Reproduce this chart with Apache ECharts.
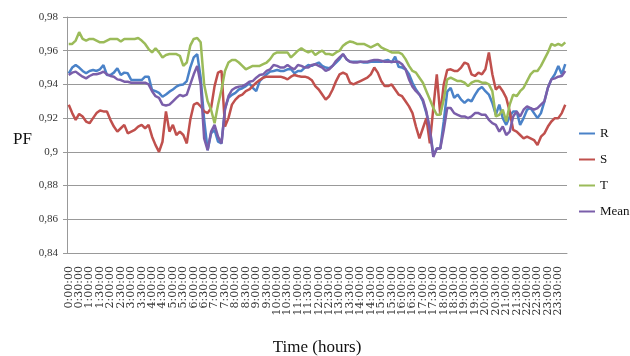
<!DOCTYPE html>
<html>
<head>
<meta charset="utf-8">
<script src="https://cdn.jsdelivr.net/npm/echarts@6/dist/echarts.min.js"></script>
<style>
  html, body { margin: 0; padding: 0; background: #fff; }
  #chart { width: 630px; height: 356px; }
</style>
</head>
<body>
<div id="chart"></div>
<script>
// 10-minute samples over one day
const times = [];
for (let h = 0; h < 24; h++) {
    for (let m = 0; m < 60; m += 10) {
        times.push(h + ":" + String(m).padStart(2, "0") + ":00");
    }
}

const yTicks = [0.84, 0.86, 0.88, 0.9, 0.92, 0.94, 0.96, 0.98];

const phaseR = [
    0.9466, 0.950, 0.9515, 0.950, 0.948, 0.9466, 0.948, 0.9486, 0.948, 0.949, 0.9515, 0.9456,
    0.9456, 0.947, 0.9496, 0.9456, 0.947, 0.9466, 0.9426, 0.9426, 0.9426, 0.9426, 0.9446, 0.9446,
    0.9367, 0.936, 0.935, 0.9327, 0.934, 0.9357, 0.937, 0.9387, 0.9397, 0.940, 0.942, 0.950,
    0.956, 0.958, 0.944, 0.919, 0.901, 0.911, 0.913, 0.906, 0.905, 0.926, 0.932, 0.9338,
    0.935, 0.937, 0.9377, 0.939, 0.9406, 0.938, 0.936, 0.942, 0.944, 0.946, 0.9476, 0.948,
    0.9486, 0.948, 0.948, 0.949, 0.949, 0.9466, 0.948, 0.948, 0.950, 0.9515, 0.951, 0.952,
    0.953, 0.951, 0.950, 0.9496, 0.951, 0.953, 0.955, 0.958, 0.955, 0.9535, 0.9535, 0.9535,
    0.9535, 0.953, 0.953, 0.9535, 0.9535, 0.9535, 0.9535, 0.954, 0.9545, 0.953, 0.9565, 0.9505,
    0.950, 0.949, 0.946, 0.941, 0.937, 0.934, 0.930, 0.923, 0.914, 0.898, 0.902, 0.902,
    0.918, 0.9357, 0.938, 0.932, 0.934, 0.931, 0.929, 0.931, 0.930, 0.9338, 0.937, 0.9385,
    0.936, 0.934, 0.929, 0.922, 0.928, 0.920, 0.916, 0.921, 0.924, 0.924, 0.916, 0.920,
    0.925, 0.926, 0.923, 0.920, 0.923, 0.930, 0.938, 0.943, 0.946, 0.951, 0.946, 0.952
];

const phaseS = [
    0.928, 0.923, 0.919, 0.9225, 0.921, 0.918, 0.917, 0.920, 0.923, 0.9245, 0.924, 0.924,
    0.919, 0.915, 0.912, 0.914, 0.916, 0.911, 0.912, 0.913, 0.915, 0.916, 0.914, 0.916,
    0.909, 0.904, 0.900, 0.906, 0.924, 0.912, 0.916, 0.910, 0.912, 0.910, 0.905, 0.919,
    0.928, 0.929, 0.927, 0.924, 0.923, 0.926, 0.939, 0.947, 0.948, 0.915, 0.920, 0.928,
    0.931, 0.933, 0.934, 0.936, 0.937, 0.939, 0.941, 0.9426, 0.944, 0.9446, 0.9446, 0.9446,
    0.9446, 0.9446, 0.944, 0.943, 0.9446, 0.9456, 0.945, 0.9446, 0.9446, 0.944, 0.9425, 0.939,
    0.937, 0.934, 0.931, 0.933, 0.937, 0.942, 0.946, 0.947, 0.946, 0.941, 0.940, 0.941,
    0.942, 0.943, 0.944, 0.946, 0.950, 0.947, 0.942, 0.939, 0.939, 0.940, 0.937, 0.934,
    0.933, 0.930, 0.927, 0.923, 0.915, 0.908, 0.914, 0.920, 0.905, 0.926, 0.946, 0.922,
    0.940, 0.9486, 0.949, 0.948, 0.948, 0.950, 0.953, 0.952, 0.946, 0.945, 0.947, 0.946,
    0.949, 0.959, 0.946, 0.937, 0.939, 0.936, 0.932, 0.924, 0.913, 0.912, 0.910, 0.908,
    0.909, 0.908, 0.907, 0.904, 0.909, 0.911, 0.915, 0.918, 0.920, 0.920, 0.923, 0.928
];

const phaseT = [
    0.964, 0.964, 0.966, 0.971, 0.967, 0.966, 0.967, 0.967, 0.966, 0.965, 0.965, 0.966,
    0.967, 0.967, 0.967, 0.9655, 0.967, 0.967, 0.967, 0.967, 0.9675, 0.966, 0.964, 0.961,
    0.959, 0.9615, 0.959, 0.956, 0.9575, 0.958, 0.958, 0.958, 0.957, 0.951, 0.953, 0.963,
    0.967, 0.9675, 0.965, 0.940, 0.930, 0.925, 0.917, 0.928, 0.937, 0.948, 0.953, 0.9545,
    0.9545, 0.953, 0.951, 0.949, 0.950, 0.951, 0.951, 0.951, 0.952, 0.953, 0.955, 0.958,
    0.959, 0.959, 0.959, 0.959, 0.956, 0.958, 0.960, 0.9615, 0.960, 0.959, 0.960, 0.9575,
    0.959, 0.960, 0.958, 0.958, 0.9575, 0.959, 0.960, 0.963, 0.9645, 0.9655, 0.965, 0.964,
    0.964, 0.964, 0.963, 0.962, 0.963, 0.964, 0.962, 0.961, 0.960, 0.959, 0.959, 0.959,
    0.958, 0.955, 0.951, 0.948, 0.947, 0.944, 0.941, 0.936, 0.931, 0.926, 0.922, 0.922,
    0.931, 0.943, 0.944, 0.943, 0.942, 0.942, 0.941, 0.939, 0.941, 0.942, 0.942, 0.941,
    0.941, 0.940, 0.936, 0.921, 0.922, 0.925, 0.918, 0.928, 0.934, 0.933, 0.936, 0.938,
    0.942, 0.946, 0.948, 0.948, 0.951, 0.955, 0.959, 0.964, 0.963, 0.964, 0.963, 0.965
];

const phaseMean = [
    0.9456, 0.947, 0.9476, 0.946, 0.9446, 0.9436, 0.945, 0.946, 0.946, 0.9466, 0.9476, 0.946,
    0.945, 0.9446, 0.943, 0.9426, 0.9416, 0.9416, 0.941, 0.941, 0.941, 0.941, 0.941, 0.940,
    0.936, 0.933, 0.932, 0.928, 0.9275, 0.928, 0.930, 0.932, 0.9338, 0.933, 0.934, 0.940,
    0.946, 0.951, 0.940, 0.908, 0.901, 0.912, 0.916, 0.909, 0.905, 0.925, 0.933, 0.9367,
    0.938, 0.9387, 0.939, 0.940, 0.9416, 0.942, 0.944, 0.9456, 0.946, 0.948, 0.949, 0.9515,
    0.951, 0.950, 0.950, 0.9515, 0.950, 0.949, 0.9515, 0.951, 0.950, 0.950, 0.9515, 0.952,
    0.951, 0.950, 0.948, 0.949, 0.951, 0.954, 0.956, 0.958, 0.955, 0.9535, 0.953, 0.953,
    0.9535, 0.9535, 0.9535, 0.954, 0.9545, 0.9545, 0.954, 0.9535, 0.9535, 0.9535, 0.9535, 0.9535,
    0.952, 0.949, 0.943, 0.9387, 0.936, 0.934, 0.931, 0.924, 0.913, 0.897, 0.902, 0.902,
    0.913, 0.926, 0.926, 0.923, 0.922, 0.921, 0.921, 0.920, 0.921, 0.923, 0.923, 0.922,
    0.922, 0.919, 0.917, 0.916, 0.912, 0.915, 0.910, 0.912, 0.921, 0.924, 0.921, 0.925,
    0.927, 0.926, 0.925, 0.926, 0.928, 0.930, 0.938, 0.943, 0.9436, 0.9446, 0.945, 0.948
];

const seriesNames = ["R", "S", "T", "Mean"];
const seriesData = [phaseR, phaseS, phaseT, phaseMean];
const seriesColors = ["#4a82c8", "#c0504d", "#9bbb59", "#7a5eaa"];

const serif = "'Liberation Serif', 'Times New Roman', serif";

const myChart = echarts.init(document.getElementById("chart"));
const options = {
    animation: false,
    backgroundColor: "#fff",
    title: {
        text: "PF",
        left: 13,
        top: 131,
        padding: 0,
        textStyle: {
            fontFamily: serif,
            fontSize: 17,
            fontWeight: "normal",
            color: "#111"
        }
    },
    grid: {
        left: 67,
        right: 63,
        top: 17,
        bottom: 103,
        outerBoundsMode: "none"
    },
    legend: {
        orient: "vertical",
        left: 574,
        top: 122,
        icon: "rect",
        itemWidth: 16,
        itemHeight: 2,
        itemGap: 13,
        data: seriesNames,
        textStyle: {
            fontFamily: serif,
            fontSize: 13,
            color: "#111"
        }
    },
    xAxis: {
        type: "category",
        data: times,
        boundaryGap: true,
        name: "Time (hours)",
        nameLocation: "middle",
        nameGap: 86,
        nameTextStyle: {
            fontFamily: serif,
            fontSize: 17,
            color: "#111"
        },
        axisTick: {
            show: false
        },
        axisLine: {
            lineStyle: {
                color: "#999"
            }
        },
        axisLabel: {
            interval: 0,
            // text only every half hour
            formatter: (v, idx) => (idx % 3 === 0 ? v : ""),
            showMinLabel: true,
            showMaxLabel: true,
            hideOverlap: false,
            rotate: 90,
            margin: 13,
            fontFamily: "'DejaVu Serif', serif",
            fontSize: 11,
            color: "#333"
        }
    },
    yAxis: {
        type: "value",
        min: yTicks[0],
        max: yTicks[yTicks.length - 1],
        interval: 0.02,
        axisLine: {
            show: true,
            lineStyle: {
                color: "#999"
            }
        },
        axisTick: {
            show: true,
            length: 4,
            lineStyle: {
                color: "#999"
            }
        },
        axisLabel: {
            margin: 9,
            fontFamily: serif,
            fontSize: 11,
            color: "#333",
            formatter: (v) => String(Number(v.toFixed(2))).replace(".", ",")
        },
        splitLine: {
            lineStyle: {
                color: "#999",
                width: 1.2
            }
        }
    },
    series: seriesNames.map((name, k) => ({
        name: name,
        type: "line",
        data: seriesData[k],
        symbol: "none",
        lineStyle: {
            width: 2.5,
            color: seriesColors[k]
        },
        itemStyle: {
            color: seriesColors[k]
        }
    }))
};
myChart.setOption(options);
</script>
</body>
</html>
